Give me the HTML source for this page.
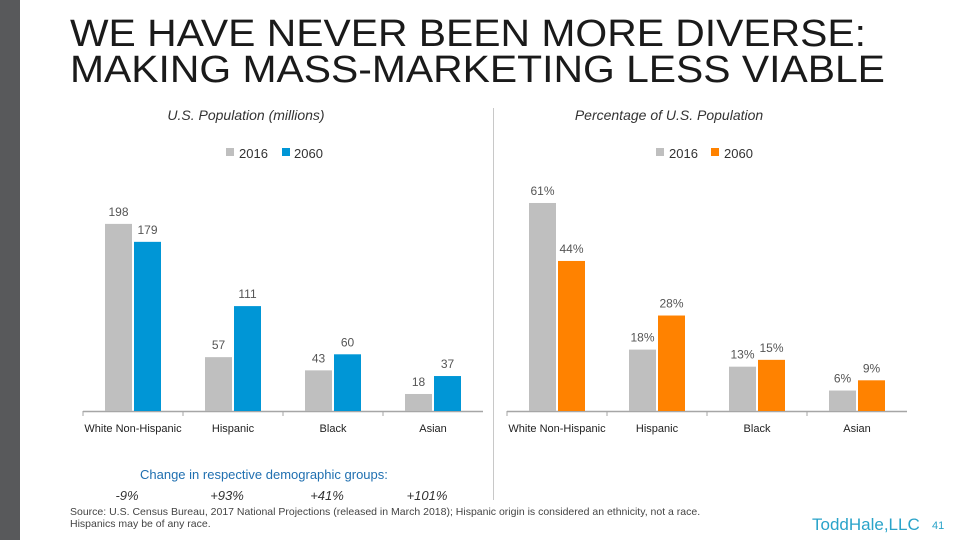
<!DOCTYPE html>
<html><head><meta charset="utf-8"><style>
body{margin:0;width:960px;height:540px;background:#fff;position:relative;overflow:hidden;font-family:"Liberation Sans",sans-serif}
.abs{position:absolute}
</style></head><body>
<div class="abs" style="left:0;top:0;width:20px;height:540px;background:#58595b"></div>
<div class="abs" style="left:70px;top:16px;font-size:38px;line-height:36px;color:#1a1a1a;transform:scaleX(1.075);transform-origin:0 0;white-space:nowrap">WE HAVE NEVER BEEN MORE DIVERSE:<br>MAKING MASS-MARKETING LESS VIABLE</div>
<div class="abs" style="left:493px;top:108px;width:1px;height:392px;background:#c8c8c8"></div>
<svg class="abs" style="left:0;top:0" width="960" height="540" id="chart">
<text x="246" y="120" text-anchor="middle" font-size="14" font-style="italic" fill="#333">U.S. Population (millions)</text>
<text x="669" y="120" text-anchor="middle" font-size="14" font-style="italic" fill="#333">Percentage of U.S. Population</text>
<g font-size="13" fill="#333"><rect x="226" y="148" width="8" height="8" fill="#bfbfbf"/><text x="239" y="158">2016</text><rect x="282" y="148" width="8" height="8" fill="#0096d6"/><text x="294" y="158">2060</text></g>
<g font-size="13" fill="#333"><rect x="656" y="148" width="8" height="8" fill="#bfbfbf"/><text x="669" y="158">2016</text><rect x="711" y="148" width="8" height="8" fill="#ff8200"/><text x="724" y="158">2060</text></g>
<g id="bars"></g>
<text x="140" y="479" font-size="13" fill="#1f6fb0">Change in respective demographic groups:</text>
<g font-size="13" font-style="italic" fill="#333"><text x="127" y="500" text-anchor="middle">-9%</text><text x="227" y="500" text-anchor="middle">+93%</text><text x="327" y="500" text-anchor="middle">+41%</text><text x="427" y="500" text-anchor="middle">+101%</text></g>
<text x="70" y="515" font-size="10.5" fill="#444">Source: U.S. Census Bureau, 2017 National Projections (released in March 2018); Hispanic origin is considered an ethnicity, not a race.</text>
<text x="70" y="527" font-size="10.5" fill="#444">Hispanics may be of any race.</text>
<text x="812" y="530" font-size="17" fill="#29a3c9">ToddHale,LLC</text>
<text x="932" y="529" font-size="11" fill="#29a3c9">41</text>
</svg>
<script>
const categories=["White Non-Hispanic","Hispanic","Black","Asian"];
const pop2016=[198,57,43,18];
const pop2060=[179,111,60,37];
const pct2016=[61,18,13,6];
const pct2060=[44,28,15,9];
const NS="http://www.w3.org/2000/svg";
const g=document.getElementById('bars');
function mk(t,a){const e=document.createElementNS(NS,t);for(const k in a)e.setAttribute(k,a[k]);g.appendChild(e);return e;}
function chart(x0,scale,s1,s2,c2,suffix,prefix){
  const base=411;
  const ax=mk('line',{x1:x0,x2:x0+400,y1:base+0.5,y2:base+0.5,stroke:'#a6a6a6','stroke-width':1.5});
  
  
  categories.forEach((c,i)=>{
    const cx=x0+50+i*100;
    const tk=mk('line',{x1:x0+i*100,x2:x0+i*100,y1:base,y2:base+5,stroke:'#a6a6a6'});
    
    
    [[s1[i],'#bfbfbf',cx-28],[s2[i],c2,cx+1]].forEach((d,j)=>{
      const h=d[0]*scale;
      const r=mk('rect',{x:d[2],y:base-h,width:27,height:h,fill:d[1]});
      
      
      const t=mk('text',{x:d[2]+13.5,y:base-h-8,'text-anchor':'middle','font-size':12,fill:'#555'});
      t.textContent=d[0]+suffix;
      
      
    });
    const l=mk('text',{x:cx,y:432,'text-anchor':'middle','font-size':11,fill:'#222'});
    l.textContent=c;
    
    
  });
}
chart(83,0.945,pop2016,pop2060,'#0096d6','','left');
chart(507,3.41,pct2016,pct2060,'#ff8200','%','right');
</script>
</body></html>
